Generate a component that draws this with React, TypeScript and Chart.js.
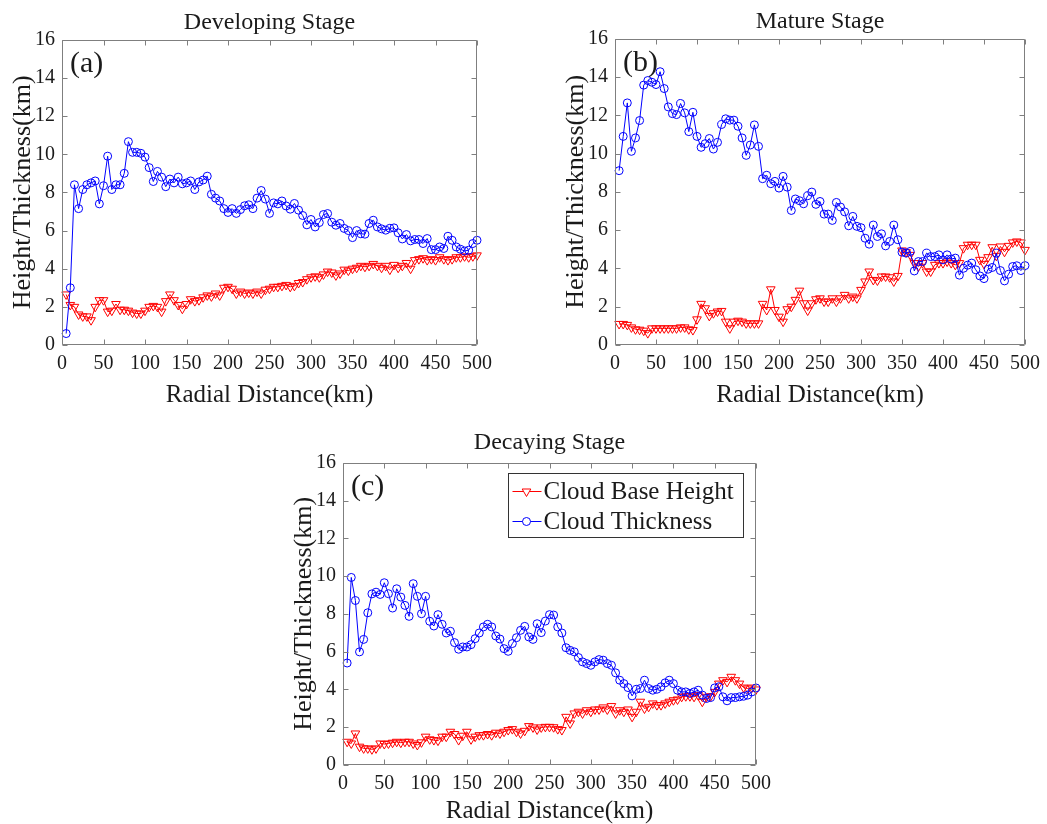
import { useEffect, useRef } from "react";
import { Chart, registerables } from "chart.js";

Chart.register(...registerables);

const SERIF = '"Liberation Serif", "Times New Roman", Times, serif';

// ---------- data ----------
const distanceKm = [
  5, 10, 15, 20, 25, 30, 35, 40, 45, 50,
  55, 60, 65, 70, 75, 80, 85, 90, 95, 100,
  105, 110, 115, 120, 125, 130, 135, 140, 145, 150,
  155, 160, 165, 170, 175, 180, 185, 190, 195, 200,
  205, 210, 215, 220, 225, 230, 235, 240, 245, 250,
  255, 260, 265, 270, 275, 280, 285, 290, 295, 300,
  305, 310, 315, 320, 325, 330, 335, 340, 345, 350,
  355, 360, 365, 370, 375, 380, 385, 390, 395, 400,
  405, 410, 415, 420, 425, 430, 435, 440, 445, 450,
  455, 460, 465, 470, 475, 480, 485, 490, 495, 500,
];

const xTickValues = [0, 50, 100, 150, 200, 250, 300, 350, 400, 450, 500];
const yTickValues = [0, 2, 4, 6, 8, 10, 12, 14, 16];

const developingBase = [
  2.65, 2.1, 2.0, 1.6, 1.5, 1.5, 1.3, 2.0, 2.35, 2.35,
  1.75, 1.8, 2.15, 1.85, 1.85, 1.8, 1.7, 1.65, 1.65, 1.8,
  2.0, 2.05, 2.0, 1.75, 2.3, 2.65, 2.35, 2.1, 1.9, 2.15,
  2.4, 2.3, 2.35, 2.5, 2.6, 2.55, 2.7, 2.6, 3.0, 3.05,
  2.95, 2.7, 2.8, 2.7, 2.75, 2.7, 2.8, 2.7, 2.9, 2.95,
  3.05, 3.05, 3.1, 3.15, 3.05, 3.1, 3.25, 3.3, 3.45, 3.55,
  3.6, 3.55, 3.7, 3.85, 3.8, 3.65, 3.75, 3.95, 3.9, 4.0,
  4.05, 4.15, 4.1, 4.15, 4.25, 4.15, 4.05, 4.15, 3.95, 4.2,
  4.05, 4.15, 4.3, 4.0, 4.45, 4.5, 4.55, 4.45, 4.5, 4.45,
  4.6, 4.5, 4.45, 4.5, 4.6, 4.6, 4.65, 4.6, 4.65, 4.7,
];
const developingThickness = [
  0.6, 3.0, 8.4, 7.15, 8.15, 8.4, 8.5, 8.6, 7.4, 8.35,
  9.9, 8.15, 8.4, 8.4, 9.0, 10.66, 10.1, 10.1, 10.05, 9.85,
  9.3, 8.57, 9.1, 8.8, 8.3, 8.7, 8.5, 8.8, 8.45, 8.5,
  8.6, 8.15, 8.55, 8.65, 8.85, 7.9, 7.7, 7.55, 7.15, 6.95,
  7.15, 6.9, 7.1, 7.3, 7.35, 7.15, 7.7, 8.1, 7.65, 6.9,
  7.45, 7.4, 7.55, 7.29, 7.12, 7.42, 7.07, 6.79, 6.3, 6.58,
  6.19, 6.42, 6.84, 6.89, 6.44, 6.28, 6.37, 6.11, 6.0, 5.63,
  6.0, 5.83, 5.81, 6.37, 6.54, 6.19, 6.09, 6.02, 6.12, 6.14,
  5.88, 5.56, 5.79, 5.46, 5.53, 5.53, 5.32, 5.58, 5.0, 5.0,
  5.14, 5.06, 5.7, 5.49, 5.14, 5.02, 4.93, 4.97, 5.32, 5.49,
];

const matureBase = [
  1.1, 1.1, 1.05, 0.92, 0.82, 0.8, 0.75, 0.62, 0.87, 0.87,
  0.87, 0.87, 0.87, 0.87, 0.87, 0.92, 0.92, 0.82, 0.78, 1.34,
  2.15, 1.92, 1.52, 1.66, 1.75, 1.78, 1.22, 0.87, 1.22, 1.27,
  1.22, 1.13, 1.13, 1.13, 1.13, 2.15, 1.83, 2.91, 1.83, 1.48,
  1.22, 1.87, 2.0, 2.36, 2.84, 2.18, 1.8, 2.18, 2.39, 2.44,
  2.27, 2.27, 2.44, 2.27, 2.44, 2.62, 2.44, 2.53, 2.44, 2.88,
  3.32, 3.84, 3.4, 3.37, 3.58, 3.58, 3.54, 3.32, 3.61, 4.94,
  4.85, 4.71, 4.28, 4.1, 4.28, 3.84, 3.84, 4.19, 4.28, 4.28,
  4.36, 4.28, 4.19, 4.28, 5.06, 5.24, 5.24, 5.24, 4.45, 4.24,
  4.59, 5.11, 4.66, 5.15, 4.87, 5.18, 5.36, 5.41, 5.36, 4.97,
];
const matureThickness = [
  9.11, 10.9, 12.65, 10.12, 10.82, 11.73, 13.58, 13.82, 13.73, 13.61,
  14.28, 13.4, 12.44, 12.09, 12.04, 12.62, 12.13, 11.15, 12.16, 10.9,
  10.33, 10.52, 10.79, 10.24, 10.59, 11.52, 11.82, 11.75, 11.75, 11.43,
  10.82, 9.91, 10.45, 11.5, 10.38, 8.69, 8.87, 8.43, 8.55, 8.2,
  8.81, 8.25, 7.03, 7.63, 7.54, 7.38, 7.8, 7.99, 7.35, 7.5,
  6.84, 6.84, 6.51, 7.45, 7.21, 6.96, 6.23, 6.72, 6.2, 6.13,
  5.58, 5.27, 6.27, 5.67, 5.81, 5.18, 5.41, 6.27, 5.5, 4.85,
  4.8, 4.89, 3.87, 4.36, 4.36, 4.8, 4.62, 4.62, 4.71, 4.45,
  4.71, 4.49, 4.54, 3.65, 4.01, 4.17, 4.28, 3.93, 3.61, 3.47,
  3.96, 4.05, 4.8, 3.89, 3.35, 3.7, 4.1, 4.14, 3.89, 4.15,
];

const decayingBase = [
  1.23, 1.14, 1.67, 0.97, 0.88, 0.88, 0.83, 0.88, 1.14, 1.11,
  1.14, 1.18, 1.23, 1.18, 1.23, 1.23, 1.14, 1.06, 1.2, 1.5,
  1.36, 1.32, 1.29, 1.5, 1.5, 1.76, 1.64, 1.32, 1.55, 1.76,
  1.36, 1.5, 1.58, 1.58, 1.64, 1.58, 1.71, 1.67, 1.76, 1.85,
  1.9, 1.76, 1.67, 1.81, 2.06, 1.99, 1.88, 1.99, 2.02, 2.02,
  2.0, 1.9, 1.85, 2.55, 2.2, 2.73, 2.82, 2.73, 2.9, 2.82,
  2.94, 2.94, 3.05, 2.94, 3.12, 2.73, 2.9, 2.82, 2.94, 2.55,
  2.82, 3.35, 2.99, 3.08, 3.26, 3.17, 3.17, 3.26, 3.35, 3.43,
  3.47, 3.61, 3.64, 3.64, 3.61, 3.7, 3.35, 3.61, 3.64, 3.87,
  4.31, 4.49, 4.4, 4.67, 4.49, 4.31, 4.1, 4.05, 4.1, 4.0,
];
const decayingThickness = [
  5.4, 9.93, 8.71, 5.99, 6.65, 8.06, 9.06, 9.15, 9.03, 9.65,
  9.07, 8.31, 9.33, 8.89, 8.45, 7.87, 9.6, 8.93, 8.01, 8.93,
  7.61, 7.36, 7.96, 7.45, 6.99, 7.08, 6.48, 6.13, 6.25, 6.25,
  6.37, 6.69, 6.99, 7.31, 7.45, 7.31, 6.83, 6.67, 6.16, 6.02,
  6.43, 6.74, 7.13, 7.34, 6.78, 6.65, 7.48, 7.01, 7.62, 7.96,
  7.94, 7.31, 6.99, 6.21, 6.07, 5.99, 5.69, 5.46, 5.37, 5.28,
  5.46, 5.58, 5.55, 5.37, 5.28, 4.88, 4.49, 4.31, 4.1, 3.66,
  4.01, 4.05, 4.49, 4.05, 3.96, 4.01, 4.14, 4.35, 4.49, 4.31,
  3.96, 3.87, 3.87, 3.79, 3.87, 3.96, 3.7, 3.52, 3.57, 4.08,
  4.14, 3.61, 3.4, 3.57, 3.57, 3.61, 3.64, 3.7, 3.87, 4.08,
];

const seriesNames = ["Cloud Base Height", "Cloud Thickness"];
const xAxisTitle = "Radial Distance(km)";
const yAxisTitle = "Height/Thickness(km)";

const RED = "#ff0000";
const BLUE = "#0000ff";
const TEXT = "#1a1a1a";
const AXIS = "#7f7f7f";

// ---------- plugin: MATLAB-like box, inward ticks, panel tag, legend ----------
const matlabAxes = {
  id: "matlabAxes",
  afterDatasetsDraw(chart: any, _args: any, opts: any) {
    const { ctx, chartArea: a, scales } = chart;
    ctx.save();
    const L = Math.round(a.left) + 0.5;
    const R = Math.round(a.right) - 0.5;
    const T = Math.round(a.top) + 0.5;
    const B = Math.round(a.bottom) - 0.5;
    ctx.strokeStyle = AXIS;
    ctx.lineWidth = 1;
    ctx.beginPath();
    ctx.rect(L, T, R - L, B - T);
    const tl = 5;
    for (const t of scales.x.ticks) {
      const px = Math.round(scales.x.getPixelForValue(t.value)) + 0.5;
      ctx.moveTo(px, B);
      ctx.lineTo(px, B - tl);
      ctx.moveTo(px, T);
      ctx.lineTo(px, T + tl);
    }
    for (const t of scales.y.ticks) {
      const py = Math.round(scales.y.getPixelForValue(t.value)) + 0.5;
      ctx.moveTo(L, py);
      ctx.lineTo(L + tl, py);
      ctx.moveTo(R, py);
      ctx.lineTo(R - tl, py);
    }
    ctx.stroke();

    // panel tag
    ctx.fillStyle = TEXT;
    ctx.font = `30px ${SERIF}`;
    ctx.textAlign = "left";
    ctx.textBaseline = "alphabetic";
    ctx.fillText(opts.tag, a.left + 8, a.top + 32);

    // legend
    if (opts.legend) {
      const w = 235;
      const h = 64;
      const lx = Math.round(a.right - 13 - w) + 0.5;
      const ly = Math.round(a.top + 10) + 0.5;
      ctx.fillStyle = "#ffffff";
      ctx.fillRect(lx, ly, w, h);
      ctx.strokeStyle = "#333333";
      ctx.lineWidth = 1;
      ctx.strokeRect(lx, ly, w, h);
      const rows = [18, 48];
      chart.data.datasets.forEach((ds: any, i: number) => {
        const cy = ly + rows[i];
        const color = ds.borderColor;
        ctx.strokeStyle = color;
        ctx.lineWidth = 1;
        ctx.beginPath();
        ctx.moveTo(lx + 4, cy);
        ctx.lineTo(lx + 33, cy);
        ctx.stroke();
        const cx = lx + 18;
        ctx.beginPath();
        if (ds.pointStyle === "triangle") {
          const r = 5;
          ctx.moveTo(cx, cy + r);
          ctx.lineTo(cx - 0.866 * r, cy - 0.5 * r);
          ctx.lineTo(cx + 0.866 * r, cy - 0.5 * r);
          ctx.closePath();
        } else {
          ctx.arc(cx, cy, 4, 0, Math.PI * 2);
        }
        ctx.fillStyle = "#ffffff";
        ctx.fill();
        ctx.stroke();
        ctx.fillStyle = TEXT;
        ctx.font = `25px ${SERIF}`;
        ctx.textBaseline = "middle";
        ctx.fillText(ds.label, lx + 35, cy + 1);
      });
    }
    ctx.restore();
  },
};

type PanelProps = {
  left: number;
  top: number;
  width: number;
  height: number;
  padRight: number;
  xAxisHeight: number;
  title: string;
  titlePad: { top: number; bottom: number };
  xTitlePad: number;
  tag: string;
  base: number[];
  thickness: number[];
  legend?: boolean;
};

function Panel(p: PanelProps) {
  const ref = useRef<HTMLCanvasElement | null>(null);
  useEffect(() => {
    if (!ref.current) return;
    const tickFont = { family: SERIF, size: 20 };
    const chart = new Chart(ref.current, {
      type: "line",
      data: {
        datasets: [
          {
            label: seriesNames[0],
            data: distanceKm.map((d, i) => ({ x: d, y: p.base[i] })),
            borderColor: RED,
            backgroundColor: "rgba(0,0,0,0)",
            borderWidth: 1,
            pointStyle: "triangle",
            pointRotation: 180,
            pointRadius: 5,
            pointBorderColor: RED,
            pointBackgroundColor: "rgba(0,0,0,0)",
            pointBorderWidth: 1,
            tension: 0,
            clip: false,
            order: 1,
          } as any,
          {
            label: seriesNames[1],
            data: distanceKm.map((d, i) => ({ x: d, y: p.thickness[i] })),
            borderColor: BLUE,
            backgroundColor: "rgba(0,0,0,0)",
            borderWidth: 1,
            pointStyle: "circle",
            pointRadius: 4,
            pointBorderColor: BLUE,
            pointBackgroundColor: "rgba(0,0,0,0)",
            pointBorderWidth: 1,
            tension: 0,
            clip: false,
            order: 0,
          } as any,
        ],
      },
      options: {
        animation: false,
        responsive: false,
        maintainAspectRatio: false,
        devicePixelRatio: 1,
        events: [],
        layout: { padding: { left: 0, right: p.padRight, top: 0, bottom: 0 } },
        plugins: {
          legend: { display: false },
          tooltip: { enabled: false },
          title: {
            display: true,
            text: p.title,
            fullSize: false,
            color: TEXT,
            font: { family: SERIF, size: 24, weight: "normal" },
            padding: p.titlePad,
          },
          matlabAxes: { tag: p.tag, legend: !!p.legend },
        } as any,
        scales: {
          x: {
            type: "linear",
            min: 0,
            max: 500,
            afterBuildTicks: (s: any) => {
              s.ticks = xTickValues.map((v) => ({ value: v }));
            },
            afterFit: (s: any) => {
              s.height = p.xAxisHeight;
            },
            grid: { display: false, drawTicks: false },
            border: { display: false },
            ticks: { font: tickFont, color: TEXT, padding: 7, maxRotation: 0, autoSkip: false },
            title: {
              display: true,
              text: xAxisTitle,
              color: TEXT,
              font: { family: SERIF, size: 25 },
              padding: { top: 0, bottom: p.xTitlePad },
            },
          },
          y: {
            type: "linear",
            min: 0,
            max: 16,
            afterBuildTicks: (s: any) => {
              s.ticks = yTickValues.map((v) => ({ value: v }));
            },
            afterFit: (s: any) => {
              s.width = 62;
            },
            grid: { display: false, drawTicks: false },
            border: { display: false },
            ticks: { font: tickFont, color: TEXT, padding: 7, autoSkip: false },
            title: {
              display: true,
              text: yAxisTitle,
              color: TEXT,
              font: { family: SERIF, size: 26 },
              padding: { top: 8, bottom: 0 },
            },
          },
        } as any,
      },
      plugins: [matlabAxes as any],
    });
    return () => chart.destroy();
  }, []);
  return (
    <canvas
      ref={ref}
      width={p.width}
      height={p.height}
      style={{ position: "absolute", left: p.left, top: p.top, width: p.width, height: p.height }}
    />
  );
}

export default function App() {
  return (
    <div
      style={{
        position: "absolute",
        left: 0,
        top: 0,
        width: 1047,
        height: 824,
        overflow: "hidden",
        background: "#ffffff",
      }}
    >
      <Panel
        left={0}
        top={0}
        width={525}
        height={415}
        padRight={48}
        xAxisHeight={70}
        title="Developing Stage"
        titlePad={{ top: 8, bottom: 3 }}
        xTitlePad={5}
        tag="(a)"
        base={developingBase}
        thickness={developingThickness}
      />
      <Panel
        left={553}
        top={0}
        width={494}
        height={415}
        padRight={17}
        xAxisHeight={70}
        title="Mature Stage"
        titlePad={{ top: 7, bottom: 3 }}
        xTitlePad={5}
        tag="(b)"
        base={matureBase}
        thickness={matureThickness}
      />
      <Panel
        left={281}
        top={423}
        width={525}
        height={412}
        padRight={50}
        xAxisHeight={70}
        title="Decaying Stage"
        titlePad={{ top: 5, bottom: 6 }}
        xTitlePad={9}
        tag="(c)"
        base={decayingBase}
        thickness={decayingThickness}
        legend
      />
    </div>
  );
}
